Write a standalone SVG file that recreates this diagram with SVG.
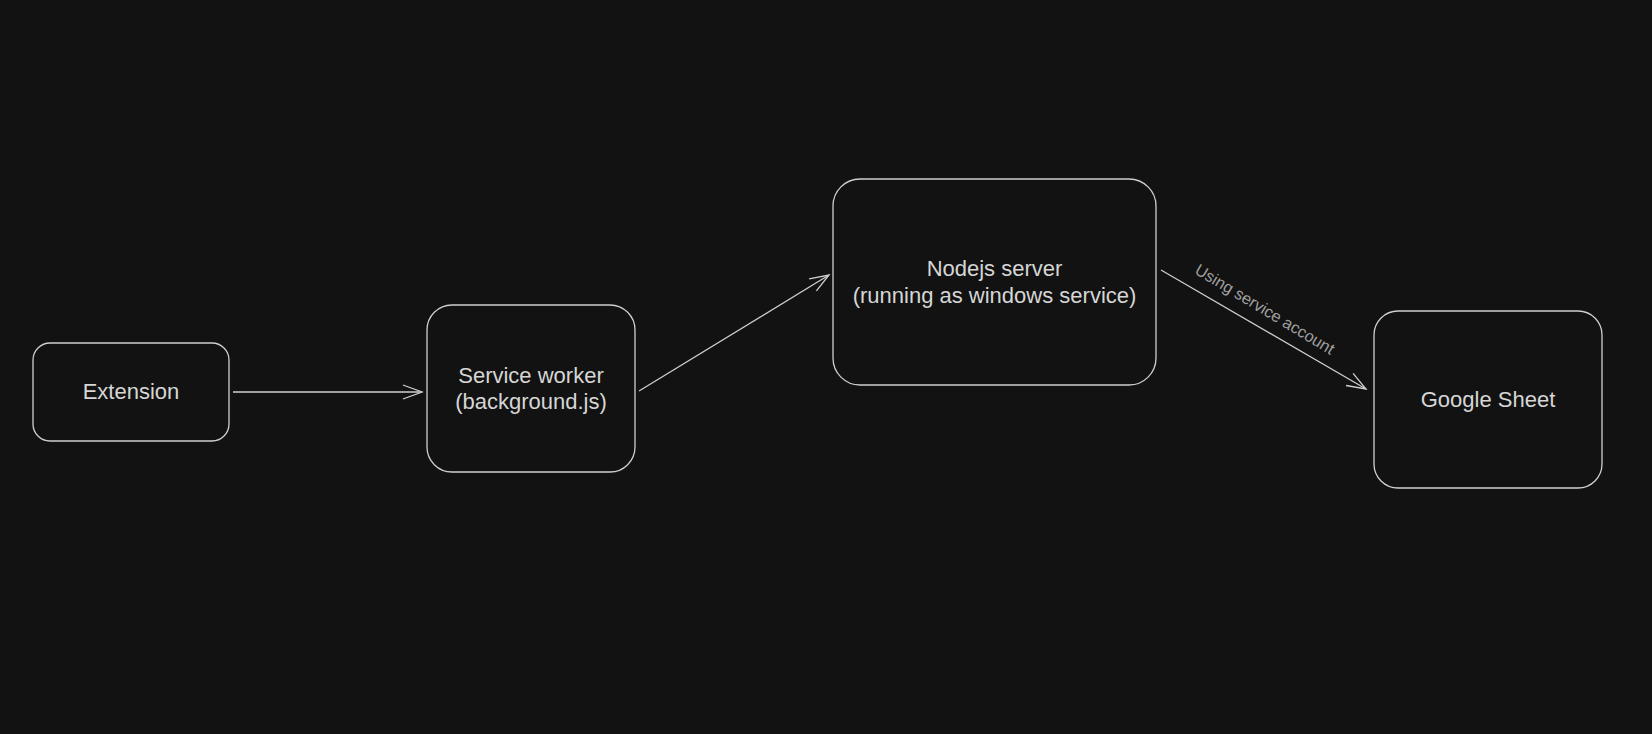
<svg xmlns="http://www.w3.org/2000/svg" width="1652" height="734" viewBox="0 0 1652 734">
<style>
.box{fill:#121212;stroke:#cfcfcf;stroke-width:1.3}
.t{font-family:"Liberation Sans",Arial,sans-serif;font-size:22px;fill:#d6d6d6;text-anchor:middle}
.lbl{font-family:"Liberation Sans",Arial,sans-serif;font-size:16.3px;fill:#a0a0a0;text-anchor:middle}
.edge{fill:none;stroke:#cfcfcf;stroke-width:1.3}
</style>
<defs>
<marker id="arr" markerWidth="22" markerHeight="18" refX="20" refY="8" orient="auto" markerUnits="userSpaceOnUse">
<path d="M1,1 L20,8 L1,15" fill="none" stroke="#cfcfcf" stroke-width="1.3"/>
</marker>
</defs>
<rect width="1652" height="734" fill="#121212"/>
<g id="connectors">
<line class="edge" x1="233" y1="392" x2="422" y2="392" marker-end="url(#arr)"/>
<line class="edge" x1="639" y1="391" x2="829" y2="275" marker-end="url(#arr)"/>
<line class="edge" x1="1161" y1="270" x2="1366" y2="389" marker-end="url(#arr)"/>
<text class="lbl" transform="translate(1262,314) rotate(31)">Using service account</text>
</g>
<g id="extension">
<rect class="box" x="33" y="343" width="196" height="98" rx="17"/>
<text class="t" x="131" y="398.5">Extension</text>
</g>
<g id="service-worker">
<rect class="box" x="427" y="305" width="208" height="167" rx="25"/>
<text class="t" x="531" y="383">Service worker</text>
<text class="t" x="531" y="409">(background.js)</text>
</g>
<g id="nodejs-server">
<rect class="box" x="833" y="179" width="323" height="206" rx="27"/>
<text class="t" x="994.5" y="276">Nodejs server</text>
<text class="t" x="994.5" y="302.5">(running as windows service)</text>
</g>
<g id="google-sheet">
<rect class="box" x="1374" y="311" width="228" height="177" rx="24"/>
<text class="t" x="1488" y="406.5">Google Sheet</text>
</g>
</svg>
